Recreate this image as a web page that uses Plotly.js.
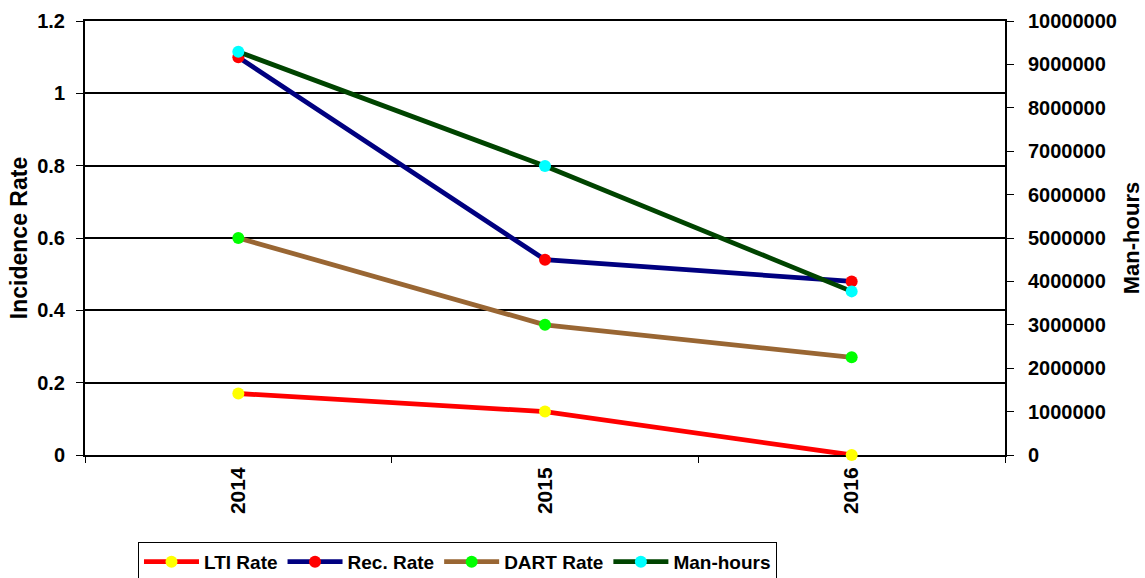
<!DOCTYPE html>
<html>
<head>
<meta charset="utf-8">
<script src="https://cdn.plot.ly/plotly-3.0.1.min.js"></script>
<style>html,body{margin:0;padding:0;background:#fff;}#chart{width:1145px;height:578px;}</style>
</head>
<body>
<div id="chart"></div>
<script>
const years = ['2014', '2015', '2016'];
const ltiRate = [0.17, 0.12, 0.0];
const recRate = [1.10, 0.54, 0.48];
const dartRate = [0.60, 0.36, 0.27];
const manHours = [9290000, 6660000, 3770000];

const FONT = 'Liberation Sans, Arial, sans-serif';

function series(name, y, lineColor, markerColor, axis) {
  return {
    type: 'scatter', mode: 'lines+markers', name: name,
    x: years, y: y, yaxis: axis, cliponaxis: false,
    line: {color: lineColor, width: 4.8},
    marker: {color: markerColor, size: 12, line: {width: 0}}
  };
}

const data = [
  series('LTI Rate', ltiRate, '#FF0000', '#FFFF00', 'y'),
  series('Rec. Rate', recRate, '#000080', '#FF0000', 'y'),
  series('DART Rate', dartRate, '#996633', '#00FF00', 'y'),
  series('Man-hours', manHours, '#004400', '#00FFFF', 'y2')
];

const layout = {
  width: 1145, height: 578,
  margin: {l: 85, r: 140, t: 21, b: 123, autoexpand: false},
  paper_bgcolor: '#fff', plot_bgcolor: '#fff',
  font: {family: FONT, color: '#000', size: 19, weight: 'bold'},
  showlegend: true,
  legend: {
    orientation: 'h', x: 0.0576, xanchor: 'left', y: -0.2, yanchor: 'top',
    bordercolor: '#000', borderwidth: 1, bgcolor: '#fff',
    font: {family: FONT, size: 19, color: '#000', weight: 'bold'},
    itemwidth: 55, traceorder: 'normal'
  },
  xaxis: {
    type: 'category', range: [-0.5, 2.5], layer: 'below traces',
    showline: true, linecolor: '#000', linewidth: 2, mirror: true,
    ticks: 'outside', tickson: 'boundaries', ticklen: 6, tickwidth: 1, tickcolor: '#000',
    tickangle: -90, ticklabelstandoff: 2,
    tickfont: {family: FONT, size: 21, color: '#000', weight: 'bold'},
    showgrid: false, zeroline: false, fixedrange: true
  },
  yaxis: {
    range: [0, 1.2], dtick: 0.2, tick0: 0, layer: 'below traces',
    showline: true, linecolor: '#000', linewidth: 2,
    ticks: 'outside', ticklen: 7, tickwidth: 1, tickcolor: '#000',
    ticklabelstandoff: 7,
    tickfont: {family: FONT, size: 20, color: '#000', weight: 'bold'},
    showgrid: true, gridcolor: '#000', gridwidth: 2, zeroline: false,
    title: {text: 'Incidence Rate', standoff: 3, font: {family: FONT, size: 23, color: '#000', weight: 'bold'}},
    fixedrange: true
  },
  yaxis2: {
    overlaying: 'y', side: 'right', range: [0, 10000000], dtick: 1000000, tick0: 0,
    tickformat: 'd', layer: 'below traces',
    showline: true, linecolor: '#000', linewidth: 2,
    ticks: 'outside', ticklen: 7, tickwidth: 1, tickcolor: '#000',
    ticklabelstandoff: 10,
    tickfont: {family: FONT, size: 20, color: '#000', weight: 'bold'},
    showgrid: false, zeroline: false,
    title: {text: 'Man-hours', standoff: 8, font: {family: FONT, size: 22, color: '#000', weight: 'bold'}},
    fixedrange: true
  }
};

Plotly.newPlot('chart', data, layout, {displayModeBar: false, staticPlot: true});
</script>
</body>
</html>
